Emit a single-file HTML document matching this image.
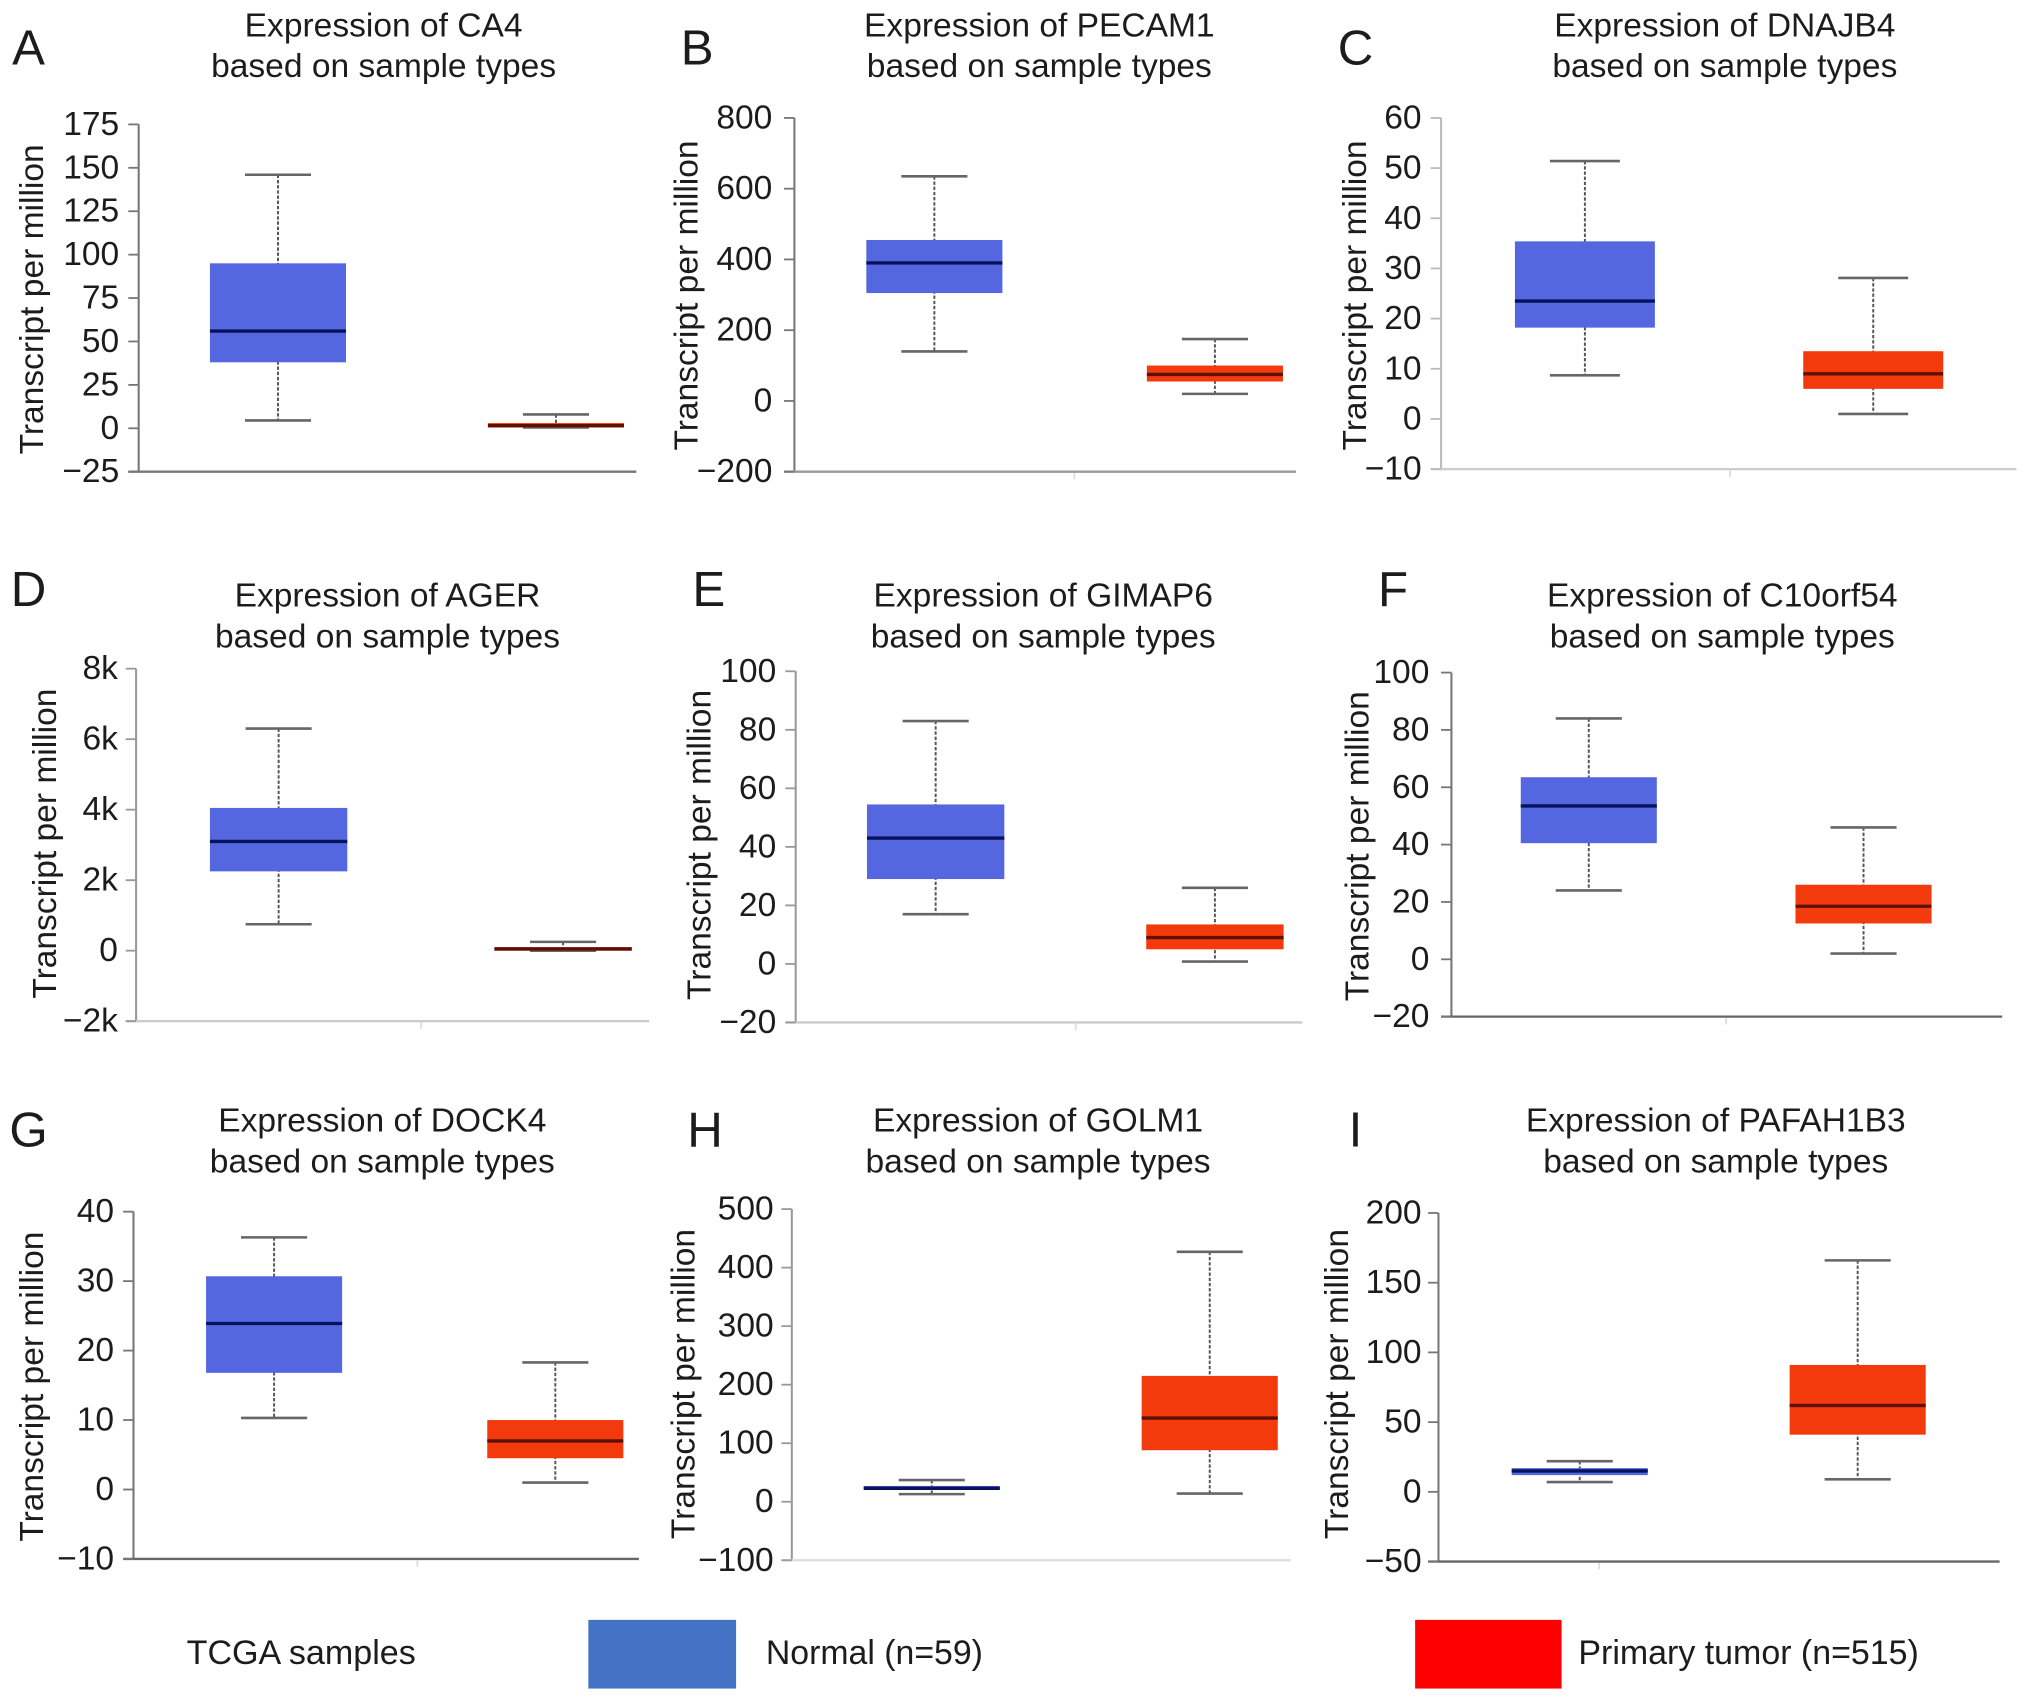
<!DOCTYPE html>
<html lang="en">
<head>
<meta charset="utf-8">
<title>Expression by sample type</title>
<style>
html,body{margin:0;padding:0;background:#fff;}
body{width:2032px;height:1701px;overflow:hidden;}
svg{display:block;}
text{font-family:"Liberation Sans",Arial,sans-serif;fill:#1c1c1c;}
</style>
</head>
<body>
<svg id="figure" xmlns="http://www.w3.org/2000/svg" width="2032" height="1701" viewBox="0 0 1568 1312.6">
  <g id="panels"></g>
  <g>
    <text x="144" y="1284" font-size="26.3">TCGA samples</text>
    <rect x="454" y="1250" width="114" height="53" fill="#4472c4"></rect>
    <text x="591" y="1284" font-size="26.1">Normal (n=59)</text>
    <rect x="1092" y="1250" width="113" height="53" fill="#fe0000"></rect>
    <text x="1218" y="1284" font-size="26.2">Primary tumor (n=515)</text>
  </g>
</svg>
<script>
const panelLetters = ['A','B','C','D','E','F','G','H','I'];
const geneNames = ['CA4','PECAM1','DNAJB4','AGER','GIMAP6','C10orf54','DOCK4','GOLM1','PAFAH1B3'];
const tickValues = [
  [-25,0,25,50,75,100,125,150,175],
  [-200,0,200,400,600,800],
  [-10,0,10,20,30,40,50,60],
  [-2000,0,2000,4000,6000,8000],
  [-20,0,20,40,60,80,100],
  [-20,0,20,40,60,80,100],
  [-10,0,10,20,30,40],
  [-100,0,100,200,300,400,500],
  [-50,0,50,100,150,200]
];
const tickLabels = [
  ['−25','0','25','50','75','100','125','150','175'],
  ['−200','0','200','400','600','800'],
  ['−10','0','10','20','30','40','50','60'],
  ['−2k','0','2k','4k','6k','8k'],
  ['−20','0','20','40','60','80','100'],
  ['−20','0','20','40','60','80','100'],
  ['−10','0','10','20','30','40'],
  ['−100','0','100','200','300','400','500'],
  ['−50','0','50','100','150','200']
];
const normalHigh   = [146, 635, 51.4, 6300, 83, 84, 36.3, 37, 22];
const normalQ3     = [95, 455, 35.4, 4050, 54.5, 63.5, 30.7, 27, 17];
const normalMedian = [56, 390, 23.5, 3100, 43, 53.5, 23.9, 23, 15];
const normalQ1     = [38, 305, 18.2, 2250, 29, 40.5, 16.8, 20, 12];
const normalLow    = [4.5, 140, 8.7, 750, 17, 24, 10.3, 13, 7];
const tumorHigh    = [8, 175, 28.1, 250, 26, 46, 18.3, 427, 166];
const tumorQ3      = [3, 100, 13.5, 100, 13.5, 26, 10, 215, 91];
const tumorMedian  = [1.5, 75, 9, 50, 9, 18.5, 7, 143, 62];
const tumorQ1      = [0.5, 55, 6, 0, 5, 12.5, 4.5, 88, 41];
const tumorLow     = [0.5, 20, 1, 0, 0.8, 2, 1, 14, 9];

/* Layout frames (view units), separate from the data above */
const frames = [
  {ax:107, top:96,  bot:364,  end:491,  nx:214.5, tx:429, titleX:296,  titleY:20,  lx:22,   ly:37,  yx:25,   yy:231,  tr:92,   axc:'#777', basec:'#777', midx:0,    bh:52.5, ch:25.5},
  {ax:613, top:91,  bot:364,  end:1000, nx:721,   tx:937.5, titleX:802, titleY:20, lx:538,  ly:37,  yx:530,  yy:228,  tr:596,  axc:'#777', basec:'#999', midx:829,  bh:52.5, ch:25.5},
  {ax:1112,top:91,  bot:362,  end:1556, nx:1223,  tx:1445.5, titleX:1331,titleY:20, lx:1046, ly:37,  yx:1046, yy:228,  tr:1097, axc:'#bbb', basec:'#ccc', midx:1335, bh:54, ch:27},
  {ax:105, top:516, bot:788,  end:501,  nx:215,   tx:434.5, titleX:299, titleY:460, lx:22,   ly:455, yx:35,   yy:651,  tr:91,   axc:'#999', basec:'#ccc', midx:325,  bh:53, ch:25.5},
  {ax:614, top:518, bot:789,  end:1005, nx:722,   tx:937.5, titleX:805, titleY:460, lx:547,  ly:455, yx:540,  yy:652,  tr:599,  axc:'#999', basec:'#ccc', midx:830,  bh:53, ch:25.5},
  {ax:1120,top:519, bot:784.5,  end:1545, nx:1226,  tx:1438, titleX:1329,titleY:460, lx:1075, ly:455, yx:1048, yy:653,  tr:1103, axc:'#777', basec:'#666', midx:1332, bh:52.5, ch:25.5},
  {ax:103, top:935, bot:1203, end:493,  nx:211.5, tx:428.5, titleX:295, titleY:865, lx:22,   ly:872, yx:25,   yy:1070, tr:88,   axc:'#777', basec:'#666', midx:322,  bh:52.5, ch:25.5},
  {ax:611, top:933, bot:1204, end:996,  nx:719,   tx:933.5, titleX:801, titleY:865, lx:544,  ly:872, yx:528,  yy:1068, tr:597,  axc:'#999', basec:'#ddd', midx:0,    bh:52.5, ch:25.5},
  {ax:1110,top:936, bot:1205, end:1543, nx:1219,  tx:1433.5, titleX:1324,titleY:865, lx:1046, ly:872, yx:1032, yy:1068, tr:1097, axc:'#777', basec:'#666', midx:1234, bh:52.5, ch:25.5}
];

const SVG_NS = 'http://www.w3.org/2000/svg';
const TICK_LEN = 8;
const FONT = 25.9;

function mk(tag, parent, attrs, content) {
  const el = document.createElementNS(SVG_NS, tag);
  for (const k in attrs) el.setAttribute(k, attrs[k]);
  if (content !== undefined) el.textContent = content;
  parent.appendChild(el);
  return el;
}

function yScale(i) {
  const vals = tickValues[i];
  const lo = Math.min.apply(null, vals);
  const hi = Math.max.apply(null, vals);
  const f = frames[i];
  return function (v) { return f.bot - (v - lo) / (hi - lo) * (f.bot - f.top); };
}

function drawBox(g, cx, y, bh, ch, hi, q3, med, q1, low, fill, medColor, key) {
  const whisker = mk('line', g, {x1:cx, x2:cx, y1:y(hi), y2:y(low), stroke:'#555', 'stroke-width':1.5, 'stroke-dasharray':'2.6 1.4'});
  
  
  const capHigh = mk('line', g, {x1:cx-ch, x2:cx+ch, y1:y(hi), y2:y(hi), stroke:'#666', 'stroke-width':2});
  
  
  const capLow = mk('line', g, {x1:cx-ch, x2:cx+ch, y1:y(low), y2:y(low), stroke:'#666', 'stroke-width':2});
  
  
  const box = mk('rect', g, {x:cx-bh, y:y(q3), width:bh*2, height:y(q1)-y(q3), fill:fill});
  
  
  const median = mk('line', g, {x1:cx-bh, x2:cx+bh, y1:y(med), y2:y(med), stroke:medColor, 'stroke-width':2.6});
  
  
}

const root = document.getElementById('panels');

panelLetters.forEach(function (letter, i) {
  const f = frames[i];
  const y = yScale(i);
  const g = mk('g', root, {});
  
  

  const letterEl = mk('text', g, {x:f.lx, y:f.ly, 'font-size':38, 'text-anchor':'middle', 'dominant-baseline':'central'}, letter);
  
  

  const t1 = mk('text', g, {x:f.titleX, y:f.titleY, 'font-size':FONT, 'text-anchor':'middle', 'dominant-baseline':'central'}, 'Expression of ' + geneNames[i]);
  
  
  const t2 = mk('text', g, {x:f.titleX, y:f.titleY+31.5, 'font-size':FONT, 'text-anchor':'middle', 'dominant-baseline':'central'}, 'based on sample types');
  
  

  const yTitle = mk('text', g, {x:f.yx, y:f.yy, 'font-size':FONT, 'text-anchor':'middle', 'dominant-baseline':'central', transform:'rotate(-90 '+f.yx+' '+f.yy+')'}, 'Transcript per million');
  
  

  const yAxis = mk('line', g, {x1:f.ax, x2:f.ax, y1:f.top, y2:f.bot, stroke:f.axc, 'stroke-width':1.6});
  
  
  const xAxis = mk('line', g, {x1:f.ax-TICK_LEN, x2:f.end, y1:f.bot, y2:f.bot, stroke:f.basec, 'stroke-width':1.8});
  
  
  if (f.midx) {
    const midTick = mk('line', g, {x1:f.midx, x2:f.midx, y1:f.bot+1, y2:f.bot+6, stroke:'#ddd', 'stroke-width':1.4});
    
    
  }

  tickValues[i].forEach(function (v, k) {
    const tick = mk('line', g, {x1:f.ax-TICK_LEN, x2:f.ax, y1:y(v), y2:y(v), stroke:f.axc, 'stroke-width':1.4});
    
    
    const label = mk('text', g, {x:f.tr, y:y(v), 'font-size':FONT, 'text-anchor':'end', 'dominant-baseline':'central'}, tickLabels[i][k]);
    
    
  });

  drawBox(g, f.nx, y, f.bh, f.ch, normalHigh[i], normalQ3[i], normalMedian[i], normalQ1[i], normalLow[i], '#5567e0', '#07125c', 'normal');
  drawBox(g, f.tx, y, f.bh, f.ch, tumorHigh[i], tumorQ3[i], tumorMedian[i], tumorQ1[i], tumorLow[i], '#f23a0c', '#5c0f02', 'tumor');
});
</script>
</body>
</html>
